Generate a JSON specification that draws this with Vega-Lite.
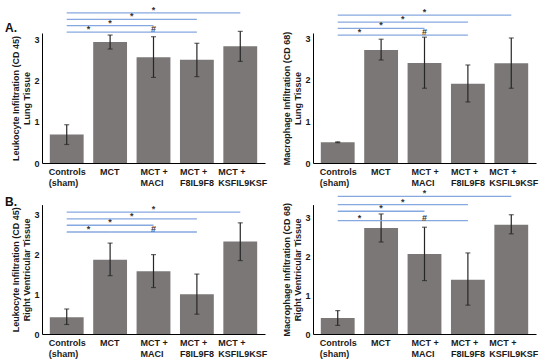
{
  "$schema": "https://vega.github.io/schema/vega-lite/v6.json",
  "padding": {"left": 5, "top": 5, "right": 5, "bottom": 5},
  "background": "white",
  "config": {
    "font": "Liberation Sans",
    "view": {"stroke": null},
    "axis": {
      "labelFont": "Liberation Sans", "labelFontWeight": "bold", "labelFontSize": 9, "labelColor": "#1a1a1a",
      "titleFont": "Liberation Sans", "titleFontWeight": "bold", "titleFontSize": 9, "titleColor": "#1a1a1a",
      "grid": false, "ticks": false, "domainColor": "#000000", "domainWidth": 1
    },
    "axisY": {"labelPadding": 3, "titlePadding": 2, "titleLineHeight": 11},
    "axisX": {"labelPadding": 4, "labelLineHeight": 11, "labelAngle": 0}
  },
  "datasets": {
    "bars": [
      {"panel": "AL", "group": "Controls|(sham)", "mean": 0.69, "lo": 0.45, "hi": 0.93},
      {"panel": "AL", "group": "MCT", "mean": 2.94, "lo": 2.77, "hi": 3.11},
      {"panel": "AL", "group": "MCT +|MACI", "mean": 2.57, "lo": 2.08, "hi": 3.07},
      {"panel": "AL", "group": "MCT +|F8IL9F8", "mean": 2.51, "lo": 2.10, "hi": 2.91},
      {"panel": "AL", "group": "MCT +|KSFIL9KSF", "mean": 2.84, "lo": 2.47, "hi": 3.20},
      {"panel": "AR", "group": "Controls|(sham)", "mean": 0.50, "lo": 0.49, "hi": 0.51},
      {"panel": "AR", "group": "MCT", "mean": 2.72, "lo": 2.48, "hi": 2.98},
      {"panel": "AR", "group": "MCT +|MACI", "mean": 2.41, "lo": 1.80, "hi": 3.03},
      {"panel": "AR", "group": "MCT +|F8IL9F8", "mean": 1.91, "lo": 1.47, "hi": 2.36},
      {"panel": "AR", "group": "MCT +|KSFIL9KSF", "mean": 2.40, "lo": 1.80, "hi": 3.01},
      {"panel": "BL", "group": "Controls|(sham)", "mean": 0.42, "lo": 0.24, "hi": 0.63},
      {"panel": "BL", "group": "MCT", "mean": 1.87, "lo": 1.47, "hi": 2.29},
      {"panel": "BL", "group": "MCT +|MACI", "mean": 1.58, "lo": 1.17, "hi": 2.00},
      {"panel": "BL", "group": "MCT +|F8IL9F8", "mean": 1.00, "lo": 0.50, "hi": 1.51},
      {"panel": "BL", "group": "MCT +|KSFIL9KSF", "mean": 2.33, "lo": 1.85, "hi": 2.80},
      {"panel": "BR", "group": "Controls|(sham)", "mean": 0.41, "lo": 0.22, "hi": 0.60},
      {"panel": "BR", "group": "MCT", "mean": 2.72, "lo": 2.36, "hi": 3.08},
      {"panel": "BR", "group": "MCT +|MACI", "mean": 2.05, "lo": 1.37, "hi": 2.74},
      {"panel": "BR", "group": "MCT +|F8IL9F8", "mean": 1.39, "lo": 0.74, "hi": 2.08},
      {"panel": "BR", "group": "MCT +|KSFIL9KSF", "mean": 2.80, "lo": 2.57, "hi": 3.06}
    ],
    "sig": [
      {"panel": "AL", "from": "Controls|(sham)", "to": "MCT +|KSFIL9KSF", "level": 3.65, "label": "*", "mid": "MCT +|MACI", "half": false},
      {"panel": "AL", "from": "Controls|(sham)", "to": "MCT +|F8IL9F8", "level": 3.49, "label": "*", "mid": "MCT", "half": true},
      {"panel": "AL", "from": "Controls|(sham)", "to": "MCT +|MACI", "level": 3.34, "label": "*", "mid": "MCT", "half": false},
      {"panel": "AL", "from": "Controls|(sham)", "to": "MCT", "level": 3.18, "label": "*", "mid": "Controls|(sham)", "half": true},
      {"panel": "AL", "from": "MCT", "to": "MCT +|F8IL9F8", "level": 3.18, "label": "#", "mid": "MCT +|MACI", "half": false},
      {"panel": "AR", "from": "Controls|(sham)", "to": "MCT +|KSFIL9KSF", "level": 3.56, "label": "*", "mid": "MCT +|MACI", "half": false},
      {"panel": "AR", "from": "Controls|(sham)", "to": "MCT +|F8IL9F8", "level": 3.39, "label": "*", "mid": "MCT", "half": true},
      {"panel": "AR", "from": "Controls|(sham)", "to": "MCT +|MACI", "level": 3.24, "label": "*", "mid": "MCT", "half": false},
      {"panel": "AR", "from": "Controls|(sham)", "to": "MCT", "level": 3.08, "label": "*", "mid": "Controls|(sham)", "half": true},
      {"panel": "AR", "from": "MCT", "to": "MCT +|F8IL9F8", "level": 3.08, "label": "#", "mid": "MCT +|MACI", "half": false},
      {"panel": "BL", "from": "Controls|(sham)", "to": "MCT +|KSFIL9KSF", "level": 3.07, "label": "*", "mid": "MCT +|MACI", "half": false},
      {"panel": "BL", "from": "Controls|(sham)", "to": "MCT +|F8IL9F8", "level": 2.90, "label": "*", "mid": "MCT", "half": true},
      {"panel": "BL", "from": "Controls|(sham)", "to": "MCT +|MACI", "level": 2.74, "label": "*", "mid": "MCT", "half": false},
      {"panel": "BL", "from": "Controls|(sham)", "to": "MCT", "level": 2.57, "label": "*", "mid": "Controls|(sham)", "half": true},
      {"panel": "BL", "from": "MCT", "to": "MCT +|F8IL9F8", "level": 2.57, "label": "#", "mid": "MCT +|MACI", "half": false},
      {"panel": "BR", "from": "Controls|(sham)", "to": "MCT +|KSFIL9KSF", "level": 3.53, "label": "*", "mid": "MCT +|MACI", "half": false},
      {"panel": "BR", "from": "Controls|(sham)", "to": "MCT +|F8IL9F8", "level": 3.32, "label": "*", "mid": "MCT", "half": true},
      {"panel": "BR", "from": "Controls|(sham)", "to": "MCT +|MACI", "level": 3.15, "label": "*", "mid": "MCT", "half": false},
      {"panel": "BR", "from": "Controls|(sham)", "to": "MCT", "level": 2.91, "label": "*", "mid": "Controls|(sham)", "half": true},
      {"panel": "BR", "from": "MCT", "to": "MCT +|F8IL9F8", "level": 2.91, "label": "#", "mid": "MCT +|MACI", "half": false}
    ]
  },
  "bounds": "flush",
  "columns": 2,
  "spacing": {"row": 41.6, "column": 48},
  "concat": [
    {
      "width": 223, "height": 130,
      "title": {"text": "A.", "anchor": "start", "frame": "group", "fontSize": 12, "fontWeight": "bold", "font": "Liberation Sans", "color": "#111111", "dx": -37, "dy": 24, "offset": -5},
      "layer": [
        {"data": {"name": "bars"}, "transform": [{"filter": "datum.panel == 'AL'"}],
         "mark": {"type": "bar", "color": "#7b7777", "width": {"band": 0.78}},
         "encoding": {
           "x": {"field": "group", "type": "nominal", "sort": null,
                 "scale": {"domain": ["Controls|(sham)", "MCT", "MCT +|MACI", "MCT +|F8IL9F8", "MCT +|KSFIL9KSF"], "paddingInner": 0, "paddingOuter": 0.07},
                 "axis": {"title": null, "labelExpr": "split(datum.value, '|')", "labelAlign": "left",
                          "labelOffset": {"expr": "datum.value == 'Controls|(sham)' ? -18 : datum.value == 'MCT' ? -10 : datum.value == 'MCT +|MACI' ? -13 : datum.value == 'MCT +|F8IL9F8' ? -17 : -22"}}},
           "y": {"field": "mean", "type": "quantitative", "scale": {"domain": [0, 3.16], "nice": false},
                 "axis": {"values": [0, 1, 2, 3], "title": ["Leukocyte Infiltration (CD 45)", "Lung Tissue"]}}
         }},
        {"data": {"name": "bars"}, "transform": [{"filter": "datum.panel == 'AL'"}],
         "mark": {"type": "rule", "color": "#262626", "strokeWidth": 1.2},
         "encoding": {"x": {"field": "group", "type": "nominal"}, "y": {"field": "lo", "type": "quantitative"}, "y2": {"field": "hi"}}},
        {"data": {"name": "bars"}, "transform": [{"filter": "datum.panel == 'AL'"}],
         "mark": {"type": "tick", "orient": "horizontal", "size": 5, "thickness": 1.2, "color": "#262626"},
         "encoding": {"x": {"field": "group", "type": "nominal"}, "y": {"field": "lo", "type": "quantitative"}}},
        {"data": {"name": "bars"}, "transform": [{"filter": "datum.panel == 'AL'"}],
         "mark": {"type": "tick", "orient": "horizontal", "size": 5, "thickness": 1.2, "color": "#262626"},
         "encoding": {"x": {"field": "group", "type": "nominal"}, "y": {"field": "hi", "type": "quantitative"}}},
        {"data": {"name": "sig"}, "transform": [{"filter": "datum.panel == 'AL'"}],
         "mark": {"type": "rule", "color": "#86a8e0", "strokeWidth": 1.3},
         "encoding": {"x": {"field": "from", "type": "nominal"}, "x2": {"field": "to"}, "y": {"field": "level", "type": "quantitative"}}},
        {"data": {"name": "sig"}, "transform": [{"filter": "datum.panel == 'AL' && !datum.half"}],
         "mark": {"type": "text", "fontSize": 9, "fontWeight": "bold", "color": "#333333", "baseline": "middle", "dy": -3},
         "encoding": {"x": {"field": "mid", "type": "nominal"}, "y": {"field": "level", "type": "quantitative"}, "text": {"field": "label"}}},
        {"data": {"name": "sig"}, "transform": [{"filter": "datum.panel == 'AL' && datum.half"}],
         "mark": {"type": "text", "fontSize": 9, "fontWeight": "bold", "color": "#333333", "baseline": "middle", "dy": -3},
         "encoding": {"x": {"field": "mid", "type": "nominal", "bandPosition": 1}, "y": {"field": "level", "type": "quantitative"}, "text": {"field": "label"}}}
      ]
    },
    {
      "width": 223, "height": 130,
      "layer": [
        {"data": {"name": "bars"}, "transform": [{"filter": "datum.panel == 'AR'"}],
         "mark": {"type": "bar", "color": "#7b7777", "width": {"band": 0.78}},
         "encoding": {
           "x": {"field": "group", "type": "nominal", "sort": null,
                 "scale": {"domain": ["Controls|(sham)", "MCT", "MCT +|MACI", "MCT +|F8IL9F8", "MCT +|KSFIL9KSF"], "paddingInner": 0, "paddingOuter": 0.07},
                 "axis": {"title": null, "labelExpr": "split(datum.value, '|')", "labelAlign": "left",
                          "labelOffset": {"expr": "datum.value == 'Controls|(sham)' ? -18 : datum.value == 'MCT' ? -10 : datum.value == 'MCT +|MACI' ? -13 : datum.value == 'MCT +|F8IL9F8' ? -17 : -22"}}},
           "y": {"field": "mean", "type": "quantitative", "scale": {"domain": [0, 3.13], "nice": false},
                 "axis": {"values": [0, 1, 2, 3], "title": ["Macrophage Infiltration (CD 68)", "Lung Tissue"]}}
         }},
        {"data": {"name": "bars"}, "transform": [{"filter": "datum.panel == 'AR'"}],
         "mark": {"type": "rule", "color": "#262626", "strokeWidth": 1.2},
         "encoding": {"x": {"field": "group", "type": "nominal"}, "y": {"field": "lo", "type": "quantitative"}, "y2": {"field": "hi"}}},
        {"data": {"name": "bars"}, "transform": [{"filter": "datum.panel == 'AR'"}],
         "mark": {"type": "tick", "orient": "horizontal", "size": 5, "thickness": 1.2, "color": "#262626"},
         "encoding": {"x": {"field": "group", "type": "nominal"}, "y": {"field": "lo", "type": "quantitative"}}},
        {"data": {"name": "bars"}, "transform": [{"filter": "datum.panel == 'AR'"}],
         "mark": {"type": "tick", "orient": "horizontal", "size": 5, "thickness": 1.2, "color": "#262626"},
         "encoding": {"x": {"field": "group", "type": "nominal"}, "y": {"field": "hi", "type": "quantitative"}}},
        {"data": {"name": "sig"}, "transform": [{"filter": "datum.panel == 'AR'"}],
         "mark": {"type": "rule", "color": "#86a8e0", "strokeWidth": 1.3},
         "encoding": {"x": {"field": "from", "type": "nominal"}, "x2": {"field": "to"}, "y": {"field": "level", "type": "quantitative"}}},
        {"data": {"name": "sig"}, "transform": [{"filter": "datum.panel == 'AR' && !datum.half"}],
         "mark": {"type": "text", "fontSize": 9, "fontWeight": "bold", "color": "#333333", "baseline": "middle", "dy": -3},
         "encoding": {"x": {"field": "mid", "type": "nominal"}, "y": {"field": "level", "type": "quantitative"}, "text": {"field": "label"}}},
        {"data": {"name": "sig"}, "transform": [{"filter": "datum.panel == 'AR' && datum.half"}],
         "mark": {"type": "text", "fontSize": 9, "fontWeight": "bold", "color": "#333333", "baseline": "middle", "dy": -3},
         "encoding": {"x": {"field": "mid", "type": "nominal", "bandPosition": 1}, "y": {"field": "level", "type": "quantitative"}, "text": {"field": "label"}}}
      ]
    },
    {
      "width": 223, "height": 129.4,
      "title": {"text": "B.", "anchor": "start", "frame": "group", "fontSize": 12, "fontWeight": "bold", "font": "Liberation Sans", "color": "#111111", "dx": -37, "dy": 8},
      "layer": [
        {"data": {"name": "bars"}, "transform": [{"filter": "datum.panel == 'BL'"}],
         "mark": {"type": "bar", "color": "#7b7777", "width": {"band": 0.78}},
         "encoding": {
           "x": {"field": "group", "type": "nominal", "sort": null,
                 "scale": {"domain": ["Controls|(sham)", "MCT", "MCT +|MACI", "MCT +|F8IL9F8", "MCT +|KSFIL9KSF"], "paddingInner": 0, "paddingOuter": 0.07},
                 "axis": {"title": null, "labelExpr": "split(datum.value, '|')", "labelAlign": "left",
                          "labelOffset": {"expr": "datum.value == 'Controls|(sham)' ? -18 : datum.value == 'MCT' ? -10 : datum.value == 'MCT +|MACI' ? -13 : datum.value == 'MCT +|F8IL9F8' ? -17 : -22"}}},
           "y": {"field": "mean", "type": "quantitative", "scale": {"domain": [0, 3.26], "nice": false},
                 "axis": {"values": [0, 1, 2, 3], "title": ["Leukocyte Infiltration (CD 45)", "Right Ventricular Tissue"]}}
         }},
        {"data": {"name": "bars"}, "transform": [{"filter": "datum.panel == 'BL'"}],
         "mark": {"type": "rule", "color": "#262626", "strokeWidth": 1.2},
         "encoding": {"x": {"field": "group", "type": "nominal"}, "y": {"field": "lo", "type": "quantitative"}, "y2": {"field": "hi"}}},
        {"data": {"name": "bars"}, "transform": [{"filter": "datum.panel == 'BL'"}],
         "mark": {"type": "tick", "orient": "horizontal", "size": 5, "thickness": 1.2, "color": "#262626"},
         "encoding": {"x": {"field": "group", "type": "nominal"}, "y": {"field": "lo", "type": "quantitative"}}},
        {"data": {"name": "bars"}, "transform": [{"filter": "datum.panel == 'BL'"}],
         "mark": {"type": "tick", "orient": "horizontal", "size": 5, "thickness": 1.2, "color": "#262626"},
         "encoding": {"x": {"field": "group", "type": "nominal"}, "y": {"field": "hi", "type": "quantitative"}}},
        {"data": {"name": "sig"}, "transform": [{"filter": "datum.panel == 'BL'"}],
         "mark": {"type": "rule", "color": "#86a8e0", "strokeWidth": 1.3},
         "encoding": {"x": {"field": "from", "type": "nominal"}, "x2": {"field": "to"}, "y": {"field": "level", "type": "quantitative"}}},
        {"data": {"name": "sig"}, "transform": [{"filter": "datum.panel == 'BL' && !datum.half"}],
         "mark": {"type": "text", "fontSize": 9, "fontWeight": "bold", "color": "#333333", "baseline": "middle", "dy": -3},
         "encoding": {"x": {"field": "mid", "type": "nominal"}, "y": {"field": "level", "type": "quantitative"}, "text": {"field": "label"}}},
        {"data": {"name": "sig"}, "transform": [{"filter": "datum.panel == 'BL' && datum.half"}],
         "mark": {"type": "text", "fontSize": 9, "fontWeight": "bold", "color": "#333333", "baseline": "middle", "dy": -3},
         "encoding": {"x": {"field": "mid", "type": "nominal", "bandPosition": 1}, "y": {"field": "level", "type": "quantitative"}, "text": {"field": "label"}}}
      ]
    },
    {
      "width": 223, "height": 129.4,
      "layer": [
        {"data": {"name": "bars"}, "transform": [{"filter": "datum.panel == 'BR'"}],
         "mark": {"type": "bar", "color": "#7b7777", "width": {"band": 0.78}},
         "encoding": {
           "x": {"field": "group", "type": "nominal", "sort": null,
                 "scale": {"domain": ["Controls|(sham)", "MCT", "MCT +|MACI", "MCT +|F8IL9F8", "MCT +|KSFIL9KSF"], "paddingInner": 0, "paddingOuter": 0.07},
                 "axis": {"title": null, "labelExpr": "split(datum.value, '|')", "labelAlign": "left",
                          "labelOffset": {"expr": "datum.value == 'Controls|(sham)' ? -18 : datum.value == 'MCT' ? -10 : datum.value == 'MCT +|MACI' ? -13 : datum.value == 'MCT +|F8IL9F8' ? -17 : -22"}}},
           "y": {"field": "mean", "type": "quantitative", "scale": {"domain": [0, 3.32], "nice": false},
                 "axis": {"values": [0, 1, 2, 3], "title": ["Macrophage Infiltration (CD 68)", "Right Ventricular Tissue"]}}
         }},
        {"data": {"name": "bars"}, "transform": [{"filter": "datum.panel == 'BR'"}],
         "mark": {"type": "rule", "color": "#262626", "strokeWidth": 1.2},
         "encoding": {"x": {"field": "group", "type": "nominal"}, "y": {"field": "lo", "type": "quantitative"}, "y2": {"field": "hi"}}},
        {"data": {"name": "bars"}, "transform": [{"filter": "datum.panel == 'BR'"}],
         "mark": {"type": "tick", "orient": "horizontal", "size": 5, "thickness": 1.2, "color": "#262626"},
         "encoding": {"x": {"field": "group", "type": "nominal"}, "y": {"field": "lo", "type": "quantitative"}}},
        {"data": {"name": "bars"}, "transform": [{"filter": "datum.panel == 'BR'"}],
         "mark": {"type": "tick", "orient": "horizontal", "size": 5, "thickness": 1.2, "color": "#262626"},
         "encoding": {"x": {"field": "group", "type": "nominal"}, "y": {"field": "hi", "type": "quantitative"}}},
        {"data": {"name": "sig"}, "transform": [{"filter": "datum.panel == 'BR'"}],
         "mark": {"type": "rule", "color": "#86a8e0", "strokeWidth": 1.3},
         "encoding": {"x": {"field": "from", "type": "nominal"}, "x2": {"field": "to"}, "y": {"field": "level", "type": "quantitative"}}},
        {"data": {"name": "sig"}, "transform": [{"filter": "datum.panel == 'BR' && !datum.half"}],
         "mark": {"type": "text", "fontSize": 9, "fontWeight": "bold", "color": "#333333", "baseline": "middle", "dy": -3},
         "encoding": {"x": {"field": "mid", "type": "nominal"}, "y": {"field": "level", "type": "quantitative"}, "text": {"field": "label"}}},
        {"data": {"name": "sig"}, "transform": [{"filter": "datum.panel == 'BR' && datum.half"}],
         "mark": {"type": "text", "fontSize": 9, "fontWeight": "bold", "color": "#333333", "baseline": "middle", "dy": -3},
         "encoding": {"x": {"field": "mid", "type": "nominal", "bandPosition": 1}, "y": {"field": "level", "type": "quantitative"}, "text": {"field": "label"}}}
      ]
    }
  ]
}
